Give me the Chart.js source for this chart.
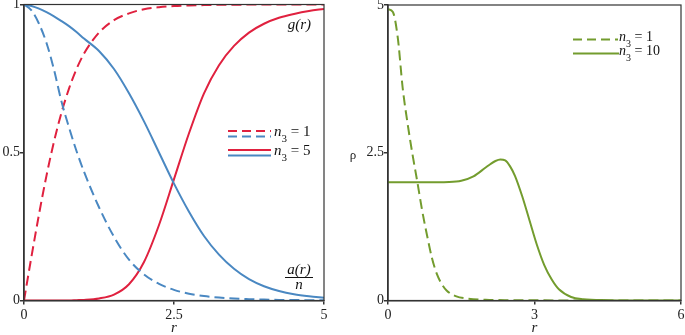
<!DOCTYPE html>
<html>
<head>
<meta charset="utf-8">
<script src="https://cdn.jsdelivr.net/npm/chart.js@4.4.1/dist/chart.umd.min.js"></script>
<style>
body { margin: 0; background: #fff; }
canvas { position: absolute; top: 0; }
#left { left: 0; }
#right { left: 345px; }
</style>
</head>
<body>
<canvas id="left" width="340" height="335"></canvas>
<canvas id="right" width="340" height="335"></canvas>
<script>
// --- DATA ---
// left panel: g(r) and a(r)/n
const rLeft = [0, 0.125, 0.25, 0.375, 0.5, 0.625, 0.75, 0.875, 1, 1.25, 1.5, 1.75, 2, 2.25, 2.5, 2.75, 3, 3.25, 3.5, 3.75, 4, 4.25, 4.5, 4.75, 5];
const gOne  = [0, 0.149, 0.291, 0.422, 0.537, 0.635, 0.716, 0.782, 0.834, 0.905, 0.947, 0.97, 0.984, 0.991, 0.995, 0.997, 0.998, 0.999, 0.999, 1, 1, 1, 1, 1, 1];
const aOne  = [1, 0.98, 0.935, 0.87, 0.78, 0.672, 0.585, 0.505, 0.435, 0.315, 0.215, 0.138, 0.088, 0.056, 0.036, 0.023, 0.015, 0.01, 0.0065, 0.0045, 0.003, 0.002, 0.0015, 0.001, 0.0007];
const gFive = [0, 0, 0, 0, 0, 0, 0, 0.001, 0.002, 0.007, 0.02, 0.055, 0.13, 0.255, 0.41, 0.565, 0.7, 0.795, 0.86, 0.905, 0.935, 0.955, 0.968, 0.978, 0.985];
const aFive = [1, 0.995, 0.986, 0.974, 0.96, 0.944, 0.927, 0.907, 0.885, 0.843, 0.782, 0.7, 0.605, 0.5, 0.395, 0.3, 0.218, 0.155, 0.107, 0.072, 0.048, 0.032, 0.021, 0.014, 0.009];
const xTicksLeft = [0, 2.5, 5];
const yTicksLeft = [0, 0.5, 1];

// right panel: rho
const rRhoOne = [0, 0.1, 0.2, 0.3, 0.4, 0.5, 0.6, 0.7, 0.8, 0.9, 1.0, 1.1, 1.2, 1.4, 1.6, 2, 2.5, 3, 4, 5, 6];
const rhoOne  = [4.93, 4.88, 4.45, 3.6, 3.0, 2.48, 2.01, 1.52, 1.1, 0.72, 0.45, 0.28, 0.17, 0.07, 0.035, 0.012, 0.005, 0.003, 0.001, 0, 0];
const rRhoTen = [0, 0.5, 1, 1.25, 1.5, 1.75, 2, 2.1, 2.2, 2.3, 2.4, 2.5, 2.6, 2.75, 2.9, 3.05, 3.2, 3.35, 3.5, 3.75, 4, 4.5, 5, 6];
const rhoTen  = [2, 2, 2, 2.003, 2.025, 2.1, 2.25, 2.31, 2.36, 2.385, 2.37, 2.27, 2.11, 1.76, 1.35, 0.94, 0.6, 0.36, 0.19, 0.06, 0.022, 0.005, 0.001, 0];
const xTicksRight = [0, 3, 6];
const yTicksRight = [0, 2.5, 5];

const RED = '#e0213f';
const BLUE = '#4a88c2';
const GREEN = '#739c2e';
const AXIS = '#333';
const SERIF = "'Liberation Serif', 'DejaVu Serif', serif";

function pts(xs, ys) { return xs.map((x, i) => ({ x: x, y: ys[i] })); }

function line(xs, ys, color, dashed) {
    return {
        data: pts(xs, ys),
        borderColor: color,
        borderWidth: 2,
        borderDash: dashed ? [10, 5] : [],
        pointRadius: 0,
        fill: false,
        cubicInterpolationMode: 'monotone'
    };
}

function scales(xTicks, yTicks, yWidth) {
    const tickFont = { family: SERIF, size: 14 };
    return {
        x: {
            type: 'linear', min: xTicks[0], max: xTicks[xTicks.length - 1],
            afterBuildTicks: s => { s.ticks = xTicks.map(v => ({ value: v })); },
            ticks: { font: tickFont, color: '#222', padding: 2, maxRotation: 0, callback: v => String(v) },
            grid: { drawOnChartArea: false, drawTicks: true, tickLength: 4, color: AXIS, lineWidth: 1.5 },
            border: { color: AXIS, width: 1.5 },
            title: { display: true, text: 'r', color: '#222', font: { family: SERIF, size: 15, style: 'italic' }, padding: { top: 0, bottom: -2 } },
            afterFit: s => { s.height = 34.5; s.paddingLeft = 0; s.paddingRight = 0; }
        },
        y: {
            type: 'linear', min: yTicks[0], max: yTicks[yTicks.length - 1],
            afterBuildTicks: s => { s.ticks = yTicks.map(v => ({ value: v })); },
            ticks: { font: tickFont, color: '#222', padding: 0, callback: v => String(v) },
            grid: { drawOnChartArea: false, drawTicks: true, tickLength: 4, color: AXIS, lineWidth: 1.5 },
            border: { color: AXIS, width: 1.5 },
            afterFit: s => { s.width = yWidth; s.paddingTop = 0; s.paddingBottom = 0; }
        }
    };
}

// frame round the plot area
const frame = {
    id: 'frame',
    afterDraw(chart) {
        const a = chart.chartArea, ctx = chart.ctx;
        ctx.save();
        ctx.strokeStyle = AXIS;
        ctx.lineWidth = 1.2;
        ctx.strokeRect(a.left, a.top, a.right - a.left, a.bottom - a.top);
        ctx.restore();
    }
};

// italic n, subscript 3, then " = k"
function nLabel(ctx, x, y, k, size) {
    ctx.textBaseline = 'alphabetic';
    ctx.textAlign = 'left';
    ctx.fillStyle = '#111';
    ctx.font = 'italic ' + size + 'px ' + SERIF;
    ctx.fillText('n', x, y);
    x += ctx.measureText('n').width;
    ctx.font = Math.round(size * 0.72) + 'px ' + SERIF;
    ctx.fillText('3', x, y + 6);
    x += ctx.measureText('3').width;
    ctx.font = size + 'px ' + SERIF;
    ctx.fillText(' = ' + k, x, y);
}

function seg(ctx, x1, x2, y, color, dashed) {
    ctx.beginPath();
    ctx.strokeStyle = color;
    ctx.lineWidth = 2;
    ctx.setLineDash(dashed ? [9, 5] : []);
    ctx.moveTo(x1, y);
    ctx.lineTo(x2, y);
    ctx.stroke();
    ctx.setLineDash([]);
}

const leftNotes = {
    id: 'leftNotes',
    afterDraw(chart) {
        const ctx = chart.ctx;
        ctx.save();
        seg(ctx, 228, 271, 131, RED, true);
        seg(ctx, 228, 271, 136.5, BLUE, true);
        nLabel(ctx, 274, 136, '1', 15);
        seg(ctx, 228, 271, 150, RED, false);
        seg(ctx, 228, 271, 155.5, BLUE, false);
        nLabel(ctx, 274, 155, '5', 15);

        ctx.fillStyle = '#111';
        ctx.font = 'italic 15px ' + SERIF;
        ctx.textAlign = 'right';
        ctx.fillText('g(r)', 311, 29);
        ctx.textAlign = 'center';
        ctx.fillText('a(r)', 299, 274);
        ctx.fillText('n', 299, 289);
        ctx.beginPath();
        ctx.strokeStyle = '#111';
        ctx.lineWidth = 1;
        ctx.moveTo(285, 277.5);
        ctx.lineTo(313, 277.5);
        ctx.stroke();
        ctx.restore();
    }
};

const rightNotes = {
    id: 'rightNotes',
    afterDraw(chart) {
        const ctx = chart.ctx;
        ctx.save();
        seg(ctx, 228, 273, 39.5, GREEN, true);
        nLabel(ctx, 274, 40.5, '1', 14);
        seg(ctx, 228, 274, 53.5, GREEN, false);
        nLabel(ctx, 274, 55, '10', 14);

        ctx.fillStyle = '#222';
        ctx.font = '13px ' + SERIF;
        ctx.textAlign = 'center';
        ctx.textBaseline = 'middle';
        ctx.fillText('ρ', 8, 156);
        ctx.restore();
    }
};

function baseOptions(xTicks, yTicks, yWidth, pad) {
    return {
        responsive: false,
        animation: false,
        layout: { padding: pad },
        plugins: { legend: { display: false }, tooltip: { enabled: false } },
        scales: scales(xTicks, yTicks, yWidth)
    };
}

new Chart(document.getElementById('left'), {
    type: 'line',
    data: {
        datasets: [
            line(rLeft, aOne, BLUE, true),
            line(rLeft, aFive, BLUE, false),
            line(rLeft, gOne, RED, true),
            line(rLeft, gFive, RED, false)
        ]
    },
    options: baseOptions(xTicksLeft, yTicksLeft, 24, { left: 0, top: 4.5, right: 16, bottom: 0 }),
    plugins: [frame, leftNotes]
});

new Chart(document.getElementById('right'), {
    type: 'line',
    data: {
        datasets: [
            line(rRhoOne, rhoOne, GREEN, true),
            line(rRhoTen, rhoTen, GREEN, false)
        ]
    },
    options: baseOptions(xTicksRight, yTicksRight, 43, { left: 0, top: 5, right: 4, bottom: 0 }),
    plugins: [frame, rightNotes]
});
</script>
</body>
</html>
